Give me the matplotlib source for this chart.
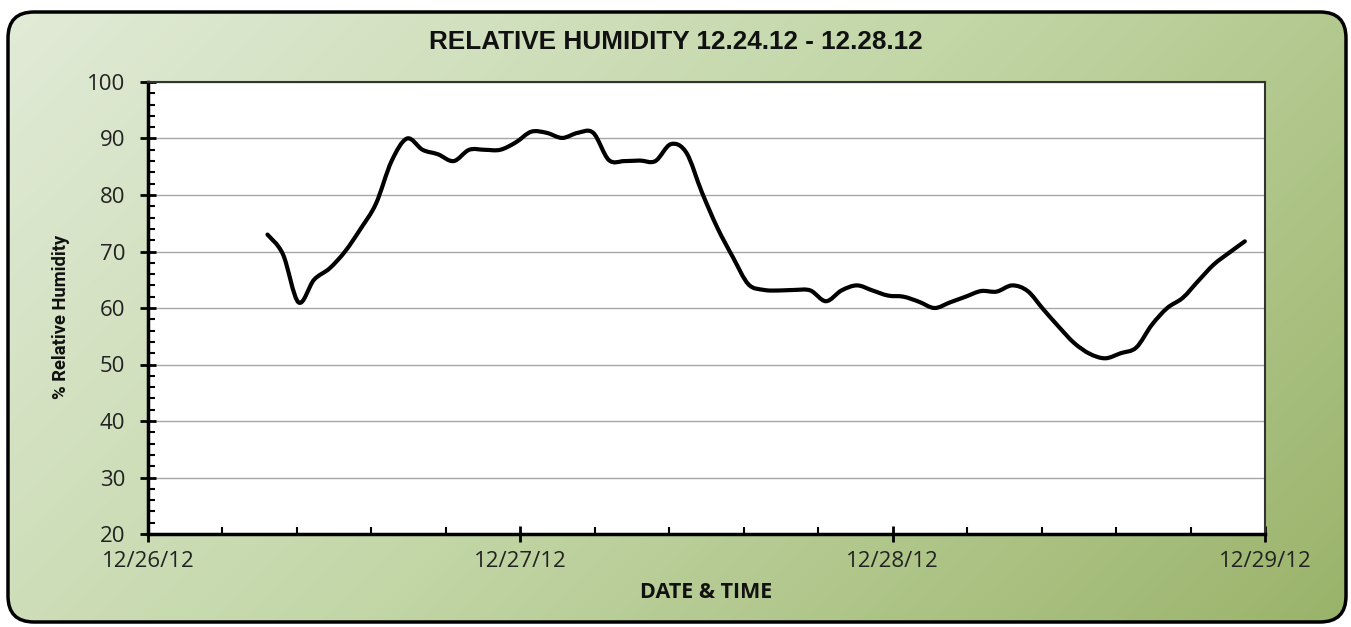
import numpy as np
import pandas as pd
import matplotlib
matplotlib.use("Agg")
import matplotlib.pyplot as plt
import matplotlib.dates as mdates
from matplotlib.patches import FancyBboxPatch, PathPatch
from matplotlib.path import Path
from matplotlib.ticker import MultipleLocator
from matplotlib.colors import LinearSegmentedColormap

# ---- data (hourly readings) ----
start_time = "2012-12-26 07:42"
rh = [73, 69.5, 61, 65, 67, 70, 74, 78.5, 86, 90,
      88, 87.2, 86, 88, 88, 88, 89.3, 91.2, 91, 90.1,
      91, 91, 86.2, 86, 86.1, 86, 89, 87.5, 80.5, 74.2,
      69, 64.2, 63.2, 63.1, 63.2, 63.1, 61.2, 63.1, 64, 63.1,
      62.2, 62, 61.1, 60, 61, 62, 63, 62.9, 64, 63,
      59.8, 56.7, 53.8, 51.9, 51.1, 52, 53, 57, 60, 61.8,
      64.8, 67.7, 69.8, 71.8]
times = pd.date_range(start_time, periods=len(rh), freq="h")
x_start, x_end = "2012-12-26", "2012-12-29"
y_min, y_max = 20, 100

title = "RELATIVE HUMIDITY 12.24.12 - 12.28.12"
xlabel = "DATE & TIME"
ylabel = "% Relative Humidity"

W, H = 1351, 627
fig = plt.figure(figsize=(W / 100, H / 100), dpi=100)

# ---- background panel with diagonal gradient ----
bg = fig.add_axes([0, 0, 1, 1], zorder=-5)
bg.set_xlim(0, W)
bg.set_ylim(H, 0)
bg.axis("off")
cmap = LinearSegmentedColormap.from_list(
    "g", ["#e2ebd8", "#c2d6a6", "#9ab36a"])
gx, gy = np.meshgrid(np.linspace(0, 1, 300), np.linspace(0, 1, 150))
grad = (gx * W + gy * H) / (W + H)
im = bg.imshow(grad, cmap=cmap, extent=(0, W, H, 0), aspect="auto",
               interpolation="bilinear")
panel = FancyBboxPatch((8, 12), 1338, 610,
                       boxstyle="round,pad=0,rounding_size=26",
                       facecolor="none", edgecolor="black", linewidth=2.5)
bg.add_patch(panel)
im.set_clip_path(panel)

# ---- main axes ----
ax = fig.add_axes([148 / W, 1 - 534 / H, (1265 - 148) / W, (534 - 82) / H])
ax.set_facecolor("white")
x0 = mdates.date2num(pd.Timestamp(x_start))
x1 = mdates.date2num(pd.Timestamp(x_end))
ax.set_xlim(x0, x1)
ax.set_ylim(y_min, y_max)

# smoothed line (Bezier through readings, like a spreadsheet "smoothed line")
xs = mdates.date2num(times.to_pydatetime())
ys = np.asarray(rh, dtype=float)
P = np.column_stack([xs, ys])
n = len(P)
verts = [P[0]]
codes = [Path.MOVETO]
for i in range(n - 1):
    pm = P[i - 1] if i > 0 else P[i]
    pn = P[i + 2] if i + 2 < n else P[i + 1]
    c1 = P[i] + (P[i + 1] - pm) / 6.0
    c2 = P[i + 1] - (pn - P[i]) / 6.0
    verts += [c1, c2, P[i + 1]]
    codes += [Path.CURVE4] * 3
line = PathPatch(Path(verts, codes), facecolor="none", edgecolor="black",
                 linewidth=3.0, capstyle="round", joinstyle="round",
                 transform=ax.transData, zorder=3)
ax.add_patch(line)

# grid & ticks
ax.yaxis.set_major_locator(MultipleLocator(10))
ax.yaxis.set_minor_locator(MultipleLocator(2))
ax.xaxis.set_major_locator(mdates.DayLocator())
ax.xaxis.set_major_formatter(mdates.DateFormatter("%m/%d/%y"))
ax.xaxis.set_minor_locator(MultipleLocator(0.2))
ax.grid(axis="y", which="major", color="#a6a6a6", linewidth=1.0)
ax.set_axisbelow(True)

ax.tick_params(axis="both", which="major", direction="inout", length=11,
               width=2, color="black", labelcolor="#222222")
ax.tick_params(axis="y", which="major", pad=11)
ax.tick_params(axis="x", which="major", pad=7)
ax.tick_params(axis="both", which="minor", direction="in", length=5,
               width=1.5, color="black")
for lab in ax.get_xticklabels() + ax.get_yticklabels():
    lab.set_fontfamily(["Open Sans", "DejaVu Sans"])
    lab.set_fontsize(16)

for side in ("left", "bottom"):
    ax.spines[side].set_linewidth(2.5)
    ax.spines[side].set_color("black")
for side in ("top", "right"):
    ax.spines[side].set_linewidth(1.5)
    ax.spines[side].set_color("#333333")

# texts
fig.text(676 / W, 1 - 42 / H, title, ha="center", va="center",
         fontsize=18.8, fontweight="bold",
         family=["Liberation Sans", "DejaVu Sans"], color="#111111")
fig.text(706 / W, 1 - 592 / H, xlabel, ha="center", va="center",
         fontsize=15.5, fontweight="bold",
         family=["Open Sans", "DejaVu Sans"], color="#111111")
fig.text(61 / W, 1 - 317 / H, ylabel, ha="center", va="center",
         rotation=90, fontsize=13.2, fontweight="bold",
         family=["Roboto", "DejaVu Sans"],
         color="#111111")

fig.savefig("out.png", dpi=100)
